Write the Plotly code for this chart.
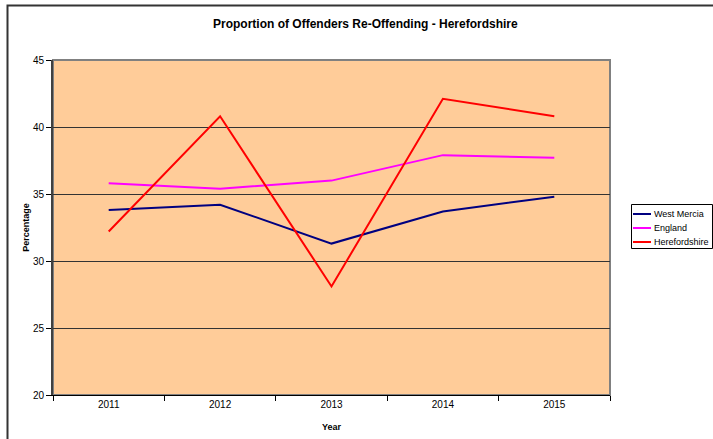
import plotly.graph_objects as go

years = ["2011", "2012", "2013", "2014", "2015"]
series_names = ["West Mercia", "England", "Herefordshire"]
west_mercia = [33.8, 34.2, 31.3, 33.7, 34.8]
england = [35.8, 35.4, 36.0, 37.9, 37.7]
herefordshire = [32.2, 40.8, 28.1, 42.1, 40.8]
colors = ["#000080", "#FF00FF", "#FF0000"]

W, H = 713, 439
L, R, T, B = 53, 610, 60, 395

def px(x):
    return (x - L) / (R - L)

def py(y):
    return (B - y) / (B - T)

fig = go.Figure()
for name, vals, col in zip(series_names, [west_mercia, england, herefordshire], colors):
    fig.add_trace(go.Scatter(x=years, y=vals, mode="lines", name=name,
                             line=dict(color=col, width=2), showlegend=False))

font = "Liberation Sans, Arial, sans-serif"

shapes = [
    # plot area outline (gray)
    dict(type="rect", xref="paper", yref="paper", x0=0, x1=1, y0=0, y1=1,
         line=dict(color="#808080", width=2), layer="below"),
    # outer chart border
    dict(type="rect", xref="paper", yref="paper",
         x0=px(7.5), x1=px(760), y0=py(480), y1=py(5.5),
         line=dict(color="#333333", width=2)),
    # legend box
    dict(type="rect", xref="paper", yref="paper",
         x0=px(631.5), x1=px(712.5), y0=py(248.5), y1=py(204.5),
         line=dict(color="black", width=1), fillcolor="white", layer="above"),
]
annotations = [
    dict(text="<b>Proportion of Offenders Re-Offending - Herefordshire</b>",
         xref="paper", yref="paper", x=px(365), y=py(24),
         xanchor="center", yanchor="middle", showarrow=False,
         font=dict(size=12, family=font)),
]
row_y = [214, 228, 242]
for name, col, ry in zip(series_names, colors, row_y):
    shapes.append(dict(type="line", xref="paper", yref="paper",
                       x0=px(633), x1=px(651), y0=py(ry), y1=py(ry),
                       line=dict(color=col, width=2), layer="above"))
    annotations.append(dict(text=name, xref="paper", yref="paper",
                            x=px(652), y=py(ry), xanchor="left", yanchor="middle",
                            showarrow=False, font=dict(size=9, family=font)))

fig.update_layout(
    width=W, height=H,
    margin=dict(l=L, r=W - R, t=T, b=H - B, pad=0, autoexpand=False),
    paper_bgcolor="white",
    plot_bgcolor="#FFCC99",
    font=dict(family=font, size=10, color="black"),
    showlegend=False,
    xaxis=dict(type="category", range=[-0.5, 4.5], tickson="boundaries",
               ticks="outside", ticklen=5, tickcolor="black",
               showline=True, linecolor="black", linewidth=1,
               showgrid=False, zeroline=False,
               title=dict(text="<b>Year</b>", font=dict(size=9), standoff=14),
               tickfont=dict(size=10)),
    yaxis=dict(range=[20, 45], dtick=5, ticks="outside", ticklen=5, tickcolor="black",
               showline=True, linecolor="#404040", linewidth=2,
               showgrid=True, gridcolor="#333333", gridwidth=1, zeroline=False,
               title=dict(text="<b>Percentage</b>", font=dict(size=9), standoff=2),
               tickfont=dict(size=10)),
    shapes=shapes,
    annotations=annotations,
)

fig.write_html("out.html", config={"displayModeBar": False},
               post_script="document.body.style.margin='0px';")
